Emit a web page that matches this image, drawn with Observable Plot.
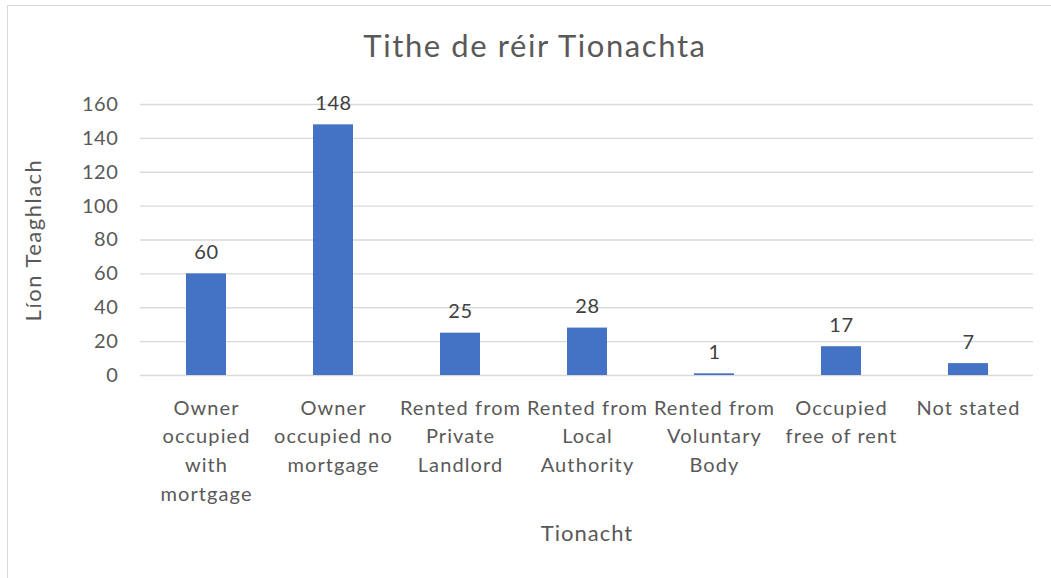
<!DOCTYPE html>
<html><head><meta charset="utf-8">
<script src="https://cdn.jsdelivr.net/npm/d3@7"></script>
<script src="https://cdn.jsdelivr.net/npm/@observablehq/plot@0.6"></script>
<style>
html,body{margin:0;padding:0;background:#fff;}
#wrap{position:relative;width:1051px;height:578px;overflow:hidden;font-family:Lato,"Open Sans",sans-serif;}
#frame{position:absolute;left:7px;top:5px;width:1100px;height:700px;border:1.5px solid #d9d9d9;box-sizing:border-box;}
#title{position:absolute;left:0;width:1070px;top:26px;text-align:center;font-size:31px;letter-spacing:1.6px;color:#595959;}
#chart{position:absolute;left:0;top:0;}
g[aria-label="x-axis tick label"] text{letter-spacing:1.1px;}
g[aria-label="y-axis tick label"] text{letter-spacing:0.6px;}
g[aria-label="text"] text{letter-spacing:0.6px;}
g.xlab text{letter-spacing:1px;}
g.ylab text{letter-spacing:1.5px;}
</style></head>
<body><div id="wrap"><div id="frame"></div><div id="title">Tithe de réir Tionachta</div><div id="chart"></div></div>
<script>
const categories = ["Owner occupied with mortgage","Owner occupied no mortgage","Rented from Private Landlord","Rented from Local Authority","Rented from Voluntary Body","Occupied free of rent","Not stated"];
const tickLabels = ["Owner\noccupied\nwith\nmortgage","Owner\noccupied no\nmortgage","Rented from\nPrivate\nLandlord","Rented from\nLocal\nAuthority","Rented from\nVoluntary\nBody","Occupied\nfree of rent","Not stated"];
const values = [60,148,25,28,1,17,7];
const yTicks = [0,20,40,60,80,100,120,140,160];

const data = categories.map((c,i)=>({cat:c, value:values[i]}));
const labelMap = new Map(categories.map((c,i)=>[c,tickLabels[i]]));

const plot = Plot.plot({
  width:1051, height:578,
  marginLeft:140, marginRight:18, marginTop:104, marginBottom:203,
  style:{fontFamily:'Lato,"Open Sans",sans-serif', background:"transparent", overflow:"visible"},
  x:{domain:categories, paddingInner:0.686, paddingOuter:0.343, label:null},
  y:{domain:[0,160], label:null},
  marks:[
    Plot.gridY(yTicks,{stroke:"#d9d9d9", strokeOpacity:1, strokeWidth:1.3}),
    Plot.barY(data,{x:"cat", y:"value", fill:"#4472C4"}),
    Plot.text(data,{x:"cat", y:"value", text:d=>String(d.value), lineAnchor:"bottom", dy:-15, fontSize:20, fill:"#404040"}),
    Plot.axisY({ticks:yTicks, tickSize:0, tickPadding:22, fontSize:20, color:"#595959", label:null}),
    Plot.axisX({tickSize:0, tickPadding:19, fontSize:20, color:"#595959", lineHeight:1.43, tickFormat:d=>labelMap.get(d), label:null}),
    Plot.text(["Tionacht"],{frameAnchor:"bottom", dy:165, fontSize:22, fill:"#595959", className:"xlab"}),
    Plot.text(["Líon Teaghlach"],{frameAnchor:"left", dx:-107, rotate:-90, textAnchor:"middle", fontSize:22, fill:"#595959", className:"ylab"})
  ]
});
document.getElementById("chart").appendChild(plot);
</script></body></html>
